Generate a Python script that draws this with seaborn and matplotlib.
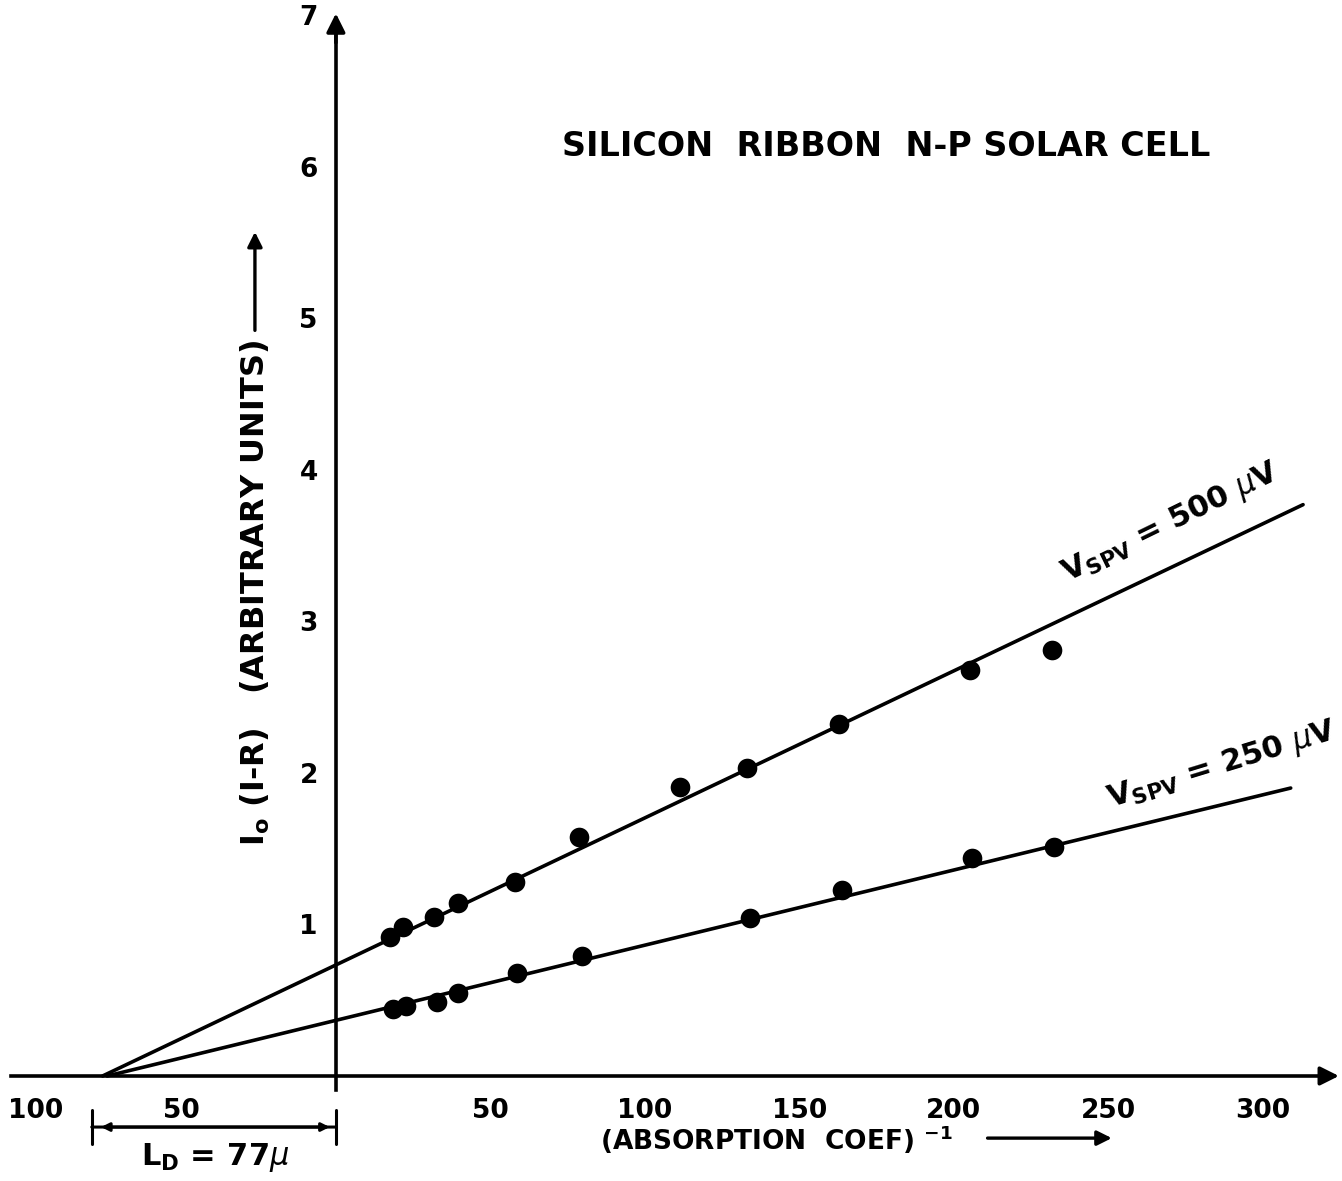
import matplotlib
matplotlib.use('Agg')
import matplotlib.pyplot as plt
import matplotlib.transforms as mtransforms
import seaborn as sns
import pandas as pd

# data (x = 1/absorption coef, y = Io(1-R) arbitrary units)
x_500 = [17.5, 21.7, 31.7, 39.5, 57.9, 78.6, 111.3, 133.0, 162.8, 205.2, 231.7]
y_500 = [0.92, 0.98, 1.05, 1.14, 1.28, 1.58, 1.91, 2.03, 2.32, 2.68, 2.81]
x_250 = [18.4, 22.7, 32.7, 39.5, 58.6, 79.6, 134.0, 163.8, 206.0, 232.4]
y_250 = [0.44, 0.46, 0.49, 0.55, 0.68, 0.79, 1.04, 1.23, 1.44, 1.51]

# fitted straight lines, extrapolated to the x intercept (-L_D)
fit_500_x = [-75.5, 313]
fit_500_y = [0.0, 3.77]
fit_250_x = [-74, 309]
fit_250_y = [0.0, 1.90]

x_ticks = [-100, -50, 50, 100, 150, 200, 250, 300]
x_tick_labels = ['100', '50', '50', '100', '150', '200', '250', '300']
y_ticks = [1, 2, 3, 4, 5, 6, 7]
L_D = 77

sns.set_style('white')
plt.rcParams['font.family'] = ['DejaVu Sans']
plt.rcParams['mathtext.fontset'] = 'dejavusans'
for key in ['text.color', 'axes.labelcolor', 'xtick.color', 'ytick.color']:
    plt.rcParams[key] = 'black'

fig = plt.figure(figsize=(13.42, 11.81), dpi=100)
ax = fig.add_axes([0, 0, 1, 1])

pts = pd.concat([
    pd.DataFrame({'x': x_500, 'y': y_500, 'v': '500'}),
    pd.DataFrame({'x': x_250, 'y': y_250, 'v': '250'}),
])
fits = pd.concat([
    pd.DataFrame({'x': fit_500_x, 'y': fit_500_y, 'v': '500'}),
    pd.DataFrame({'x': fit_250_x, 'y': fit_250_y, 'v': '250'}),
])

sns.lineplot(data=fits, x='x', y='y', units='v', estimator=None, color='black',
             linewidth=2.6, ax=ax, legend=False)
sns.scatterplot(data=pts, x='x', y='y', color='black', s=200, edgecolor='black',
                linewidth=0, ax=ax, legend=False, zorder=3)

ax.set_xlim(-108.7, 325.6)
ax.set_ylim(-0.693, 7.10)
ax.set_xlabel('')
ax.set_ylabel('')

# axes drawn through the origin
for side in ['top', 'right']:
    ax.spines[side].set_visible(False)
ax.spines['left'].set_position(('data', 0))
ax.spines['bottom'].set_position(('data', 0))
ax.spines['left'].set_bounds(-0.09, 6.9)
ax.spines['bottom'].set_bounds(-105, 320)
for side in ['left', 'bottom']:
    ax.spines[side].set_linewidth(2.6)
    ax.spines[side].set_color('black')
ax.annotate('', xy=(0, 7.03), xytext=(0, 6.8),
            arrowprops=dict(arrowstyle='-|>', color='black', lw=2.6, mutation_scale=28))
ax.annotate('', xy=(325.5, 0), xytext=(318, 0),
            arrowprops=dict(arrowstyle='-|>', color='black', lw=2.6, mutation_scale=28))

tick_font = dict(fontsize=19, fontweight='bold')
ax.set_xticks(x_ticks)
ax.set_xticklabels(x_tick_labels, **tick_font)
ax.set_yticks(y_ticks)
ax.set_yticklabels([str(t) for t in y_ticks], **tick_font)
ax.tick_params(axis='x', direction='out', length=9, width=2.2, pad=7)
ax.tick_params(axis='y', direction='out', length=9, width=2.2, pad=4)
ax.grid(False)
# the leftmost label sits a little right of its tick, keep it inside the frame
first = ax.get_xticklabels()[0]
first.set_transform(first.get_transform() + mtransforms.ScaledTranslation(9 / 100, 0, fig.dpi_scale_trans))

ax.text(178, 6.13, 'SILICON  RIBBON  N-P SOLAR CELL', ha='center', va='center',
        fontsize=24, fontweight='bold')

# y axis title, written bottom to top, with its arrow
ax.text(-26.2, 1.52, r'I$_\mathregular{o}$ (I-R)   (ARBITRARY UNITS)', rotation=90,
        rotation_mode='anchor', ha='left', va='center', fontsize=23, fontweight='bold')
ax.annotate('', xy=(-26.2, 5.57), xytext=(-26.2, 4.92),
            arrowprops=dict(arrowstyle='-|>', color='black', lw=2.4, mutation_scale=22,
                            shrinkA=0, shrinkB=0))

ax.text(85.4, -0.42, r'(ABSORPTION  COEF) $^{\mathregular{-1}}$', ha='left', va='center',
        fontsize=19, fontweight='bold')
ax.annotate('', xy=(252, -0.41), xytext=(210, -0.41),
            arrowprops=dict(arrowstyle='-|>', color='black', lw=2.4, mutation_scale=22))

# diffusion length bracket
ax.annotate('', xy=(-L_D - 2, -0.337), xytext=(0, -0.337),
            arrowprops=dict(arrowstyle='|-|', color='black', lw=2.2, mutation_scale=12,
                            shrinkA=0, shrinkB=0))
ax.annotate('', xy=(-L_D + 1, -0.337), xytext=(-2, -0.337),
            arrowprops=dict(arrowstyle='<|-|>', color='black', lw=2.2, mutation_scale=12,
                            shrinkA=0, shrinkB=0))
ax.text(-39.2, -0.54, r'L$_\mathregular{D}$ = ' + str(L_D) + r'$\mu$', ha='center', va='center',
        fontsize=22, fontweight='bold')

ax.text(270.2, 3.65, r'V$_\mathregular{SPV}$ = 500 $\mu$V', rotation=26, ha='center',
        va='center', fontsize=22, fontweight='bold')
ax.text(286.7, 2.05, r'V$_\mathregular{SPV}$ = 250 $\mu$V', rotation=17, ha='center',
        va='center', fontsize=22, fontweight='bold')

fig.savefig('out.png', dpi=100)
